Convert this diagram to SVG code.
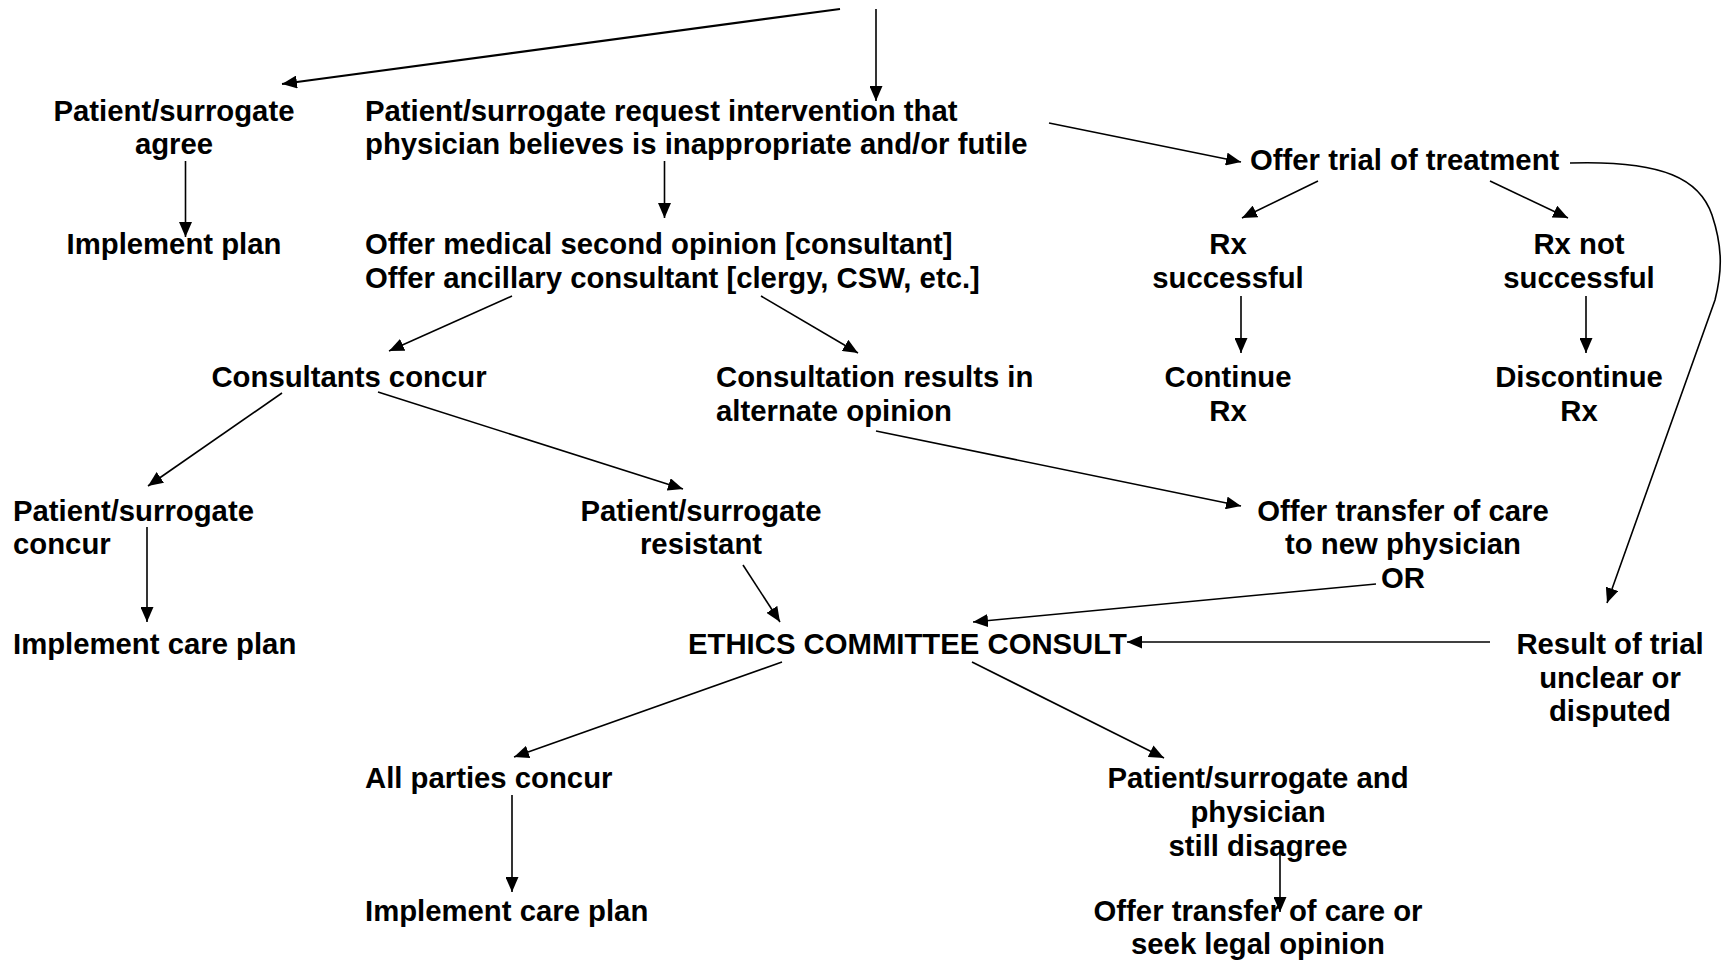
<svg xmlns="http://www.w3.org/2000/svg" width="1722" height="961" viewBox="0 0 1722 961">
<style>
text{font-family:"Liberation Sans",Arial,sans-serif;font-weight:bold;font-size:29.3px;fill:#000}
.c{text-anchor:middle}
.e{stroke:#000;stroke-width:1.6;fill:none}
.t{stroke-width:2.2}
</style>
<defs>
<marker id="ah" markerUnits="userSpaceOnUse" markerWidth="16" markerHeight="13" refX="15" refY="6.5" orient="auto" viewBox="0 0 16 13">
<path d="M0,0 L15,6.5 L0,13 z" fill="#000"/>
</marker>
</defs>
<rect width="1722" height="961" fill="#fff"/>
<g id="connectors">
<line class="e t" x1="840" y1="9" x2="282" y2="84" marker-end="url(#ah)"/>
<line class="e" x1="876" y1="9" x2="876" y2="101" marker-end="url(#ah)"/>
<line class="e" x1="185.5" y1="161" x2="185.5" y2="237" marker-end="url(#ah)"/>
<line class="e" x1="664.5" y1="161" x2="664.5" y2="218" marker-end="url(#ah)"/>
<line class="e" x1="1049" y1="123" x2="1241" y2="162" marker-end="url(#ah)"/>
<line class="e" x1="1318" y1="181" x2="1242" y2="218" marker-end="url(#ah)"/>
<line class="e" x1="1490" y1="181" x2="1568" y2="218" marker-end="url(#ah)"/>
<line class="e" x1="1241" y1="296" x2="1241" y2="353" marker-end="url(#ah)"/>
<line class="e" x1="1586" y1="296" x2="1586" y2="353" marker-end="url(#ah)"/>
<line class="e" x1="512" y1="296" x2="389" y2="351" marker-end="url(#ah)"/>
<line class="e" x1="761" y1="296" x2="858" y2="353" marker-end="url(#ah)"/>
<path class="e" d="M1570,163 C1665,160 1700,180 1712,215 C1723,248 1722,272 1715,300 L1607,603" marker-end="url(#ah)"/>
<line class="e" x1="282" y1="393" x2="148" y2="486" marker-end="url(#ah)"/>
<line class="e" x1="378" y1="392" x2="683" y2="489" marker-end="url(#ah)"/>
<line class="e" x1="876" y1="431" x2="1241" y2="506" marker-end="url(#ah)"/>
<line class="e" x1="147" y1="527" x2="147" y2="622" marker-end="url(#ah)"/>
<line class="e" x1="743" y1="565" x2="780" y2="622" marker-end="url(#ah)"/>
<line class="e" x1="1376" y1="584" x2="973" y2="622" marker-end="url(#ah)"/>
<line class="e" x1="1490" y1="642" x2="1127" y2="642" marker-end="url(#ah)"/>
<line class="e" x1="782" y1="662" x2="514" y2="757" marker-end="url(#ah)"/>
<line class="e" x1="972" y1="662" x2="1164" y2="758" marker-end="url(#ah)"/>
<line class="e" x1="512" y1="795" x2="512" y2="892" marker-end="url(#ah)"/>
<line class="e" x1="1280" y1="847" x2="1280" y2="912" marker-end="url(#ah)"/>
</g>
<g id="n_agree"><text class="c" x="174" y="121"><tspan x="174">Patient/surrogate</tspan><tspan x="174" dy="33">agree</tspan></text></g>
<g id="n_request"><text x="365" y="121"><tspan x="365">Patient/surrogate request intervention that</tspan><tspan x="365" dy="33">physician believes is inappropriate and/or futile</tspan></text></g>
<g id="n_implement_plan"><text class="c" x="174" y="254">Implement plan</text></g>
<g id="n_second_opinion"><text x="365" y="254"><tspan x="365">Offer medical second opinion [consultant]</tspan><tspan x="365" dy="34">Offer ancillary consultant [clergy, CSW, etc.]</tspan></text></g>
<g id="n_trial"><text x="1250" y="170">Offer trial of treatment</text></g>
<g id="n_rx_success"><text class="c" x="1228" y="254"><tspan x="1228">Rx</tspan><tspan x="1228" dy="34">successful</tspan></text></g>
<g id="n_rx_fail"><text class="c" x="1579" y="254"><tspan x="1579">Rx not</tspan><tspan x="1579" dy="34">successful</tspan></text></g>
<g id="n_continue"><text class="c" x="1228" y="387"><tspan x="1228">Continue</tspan><tspan x="1228" dy="34">Rx</tspan></text></g>
<g id="n_discontinue"><text class="c" x="1579" y="387"><tspan x="1579">Discontinue</tspan><tspan x="1579" dy="34">Rx</tspan></text></g>
<g id="n_consultants_concur"><text class="c" x="349" y="387">Consultants concur</text></g>
<g id="n_alternate"><text x="716" y="387"><tspan x="716">Consultation results in</tspan><tspan x="716" dy="34">alternate opinion</tspan></text></g>
<g id="n_pt_concur"><text x="13" y="521"><tspan x="13">Patient/surrogate</tspan><tspan x="13" dy="33">concur</tspan></text></g>
<g id="n_pt_resistant"><text class="c" x="701" y="521"><tspan x="701">Patient/surrogate</tspan><tspan x="701" dy="33">resistant</tspan></text></g>
<g id="n_transfer"><text class="c" x="1403" y="521"><tspan x="1403">Offer transfer of care</tspan><tspan x="1403" dy="33">to new physician</tspan><tspan x="1403" dy="34">OR</tspan></text></g>
<g id="n_implement_care1"><text x="13" y="654">Implement care plan</text></g>
<g id="n_ethics"><text x="688" y="654">ETHICS COMMITTEE CONSULT</text></g>
<g id="n_unclear"><text class="c" x="1610" y="654"><tspan x="1610">Result of trial</tspan><tspan x="1610" dy="33.5">unclear or</tspan><tspan x="1610" dy="33">disputed</tspan></text></g>
<g id="n_all_concur"><text x="365" y="788">All parties concur</text></g>
<g id="n_disagree"><text class="c" x="1258" y="788"><tspan x="1258">Patient/surrogate and</tspan><tspan x="1258" dy="34">physician</tspan><tspan x="1258" dy="34">still disagree</tspan></text></g>
<g id="n_implement_care2"><text x="365" y="921">Implement care plan</text></g>
<g id="n_legal"><text class="c" x="1258" y="921"><tspan x="1258">Offer transfer of care or</tspan><tspan x="1258" dy="33">seek legal opinion</tspan></text></g>
</svg>
